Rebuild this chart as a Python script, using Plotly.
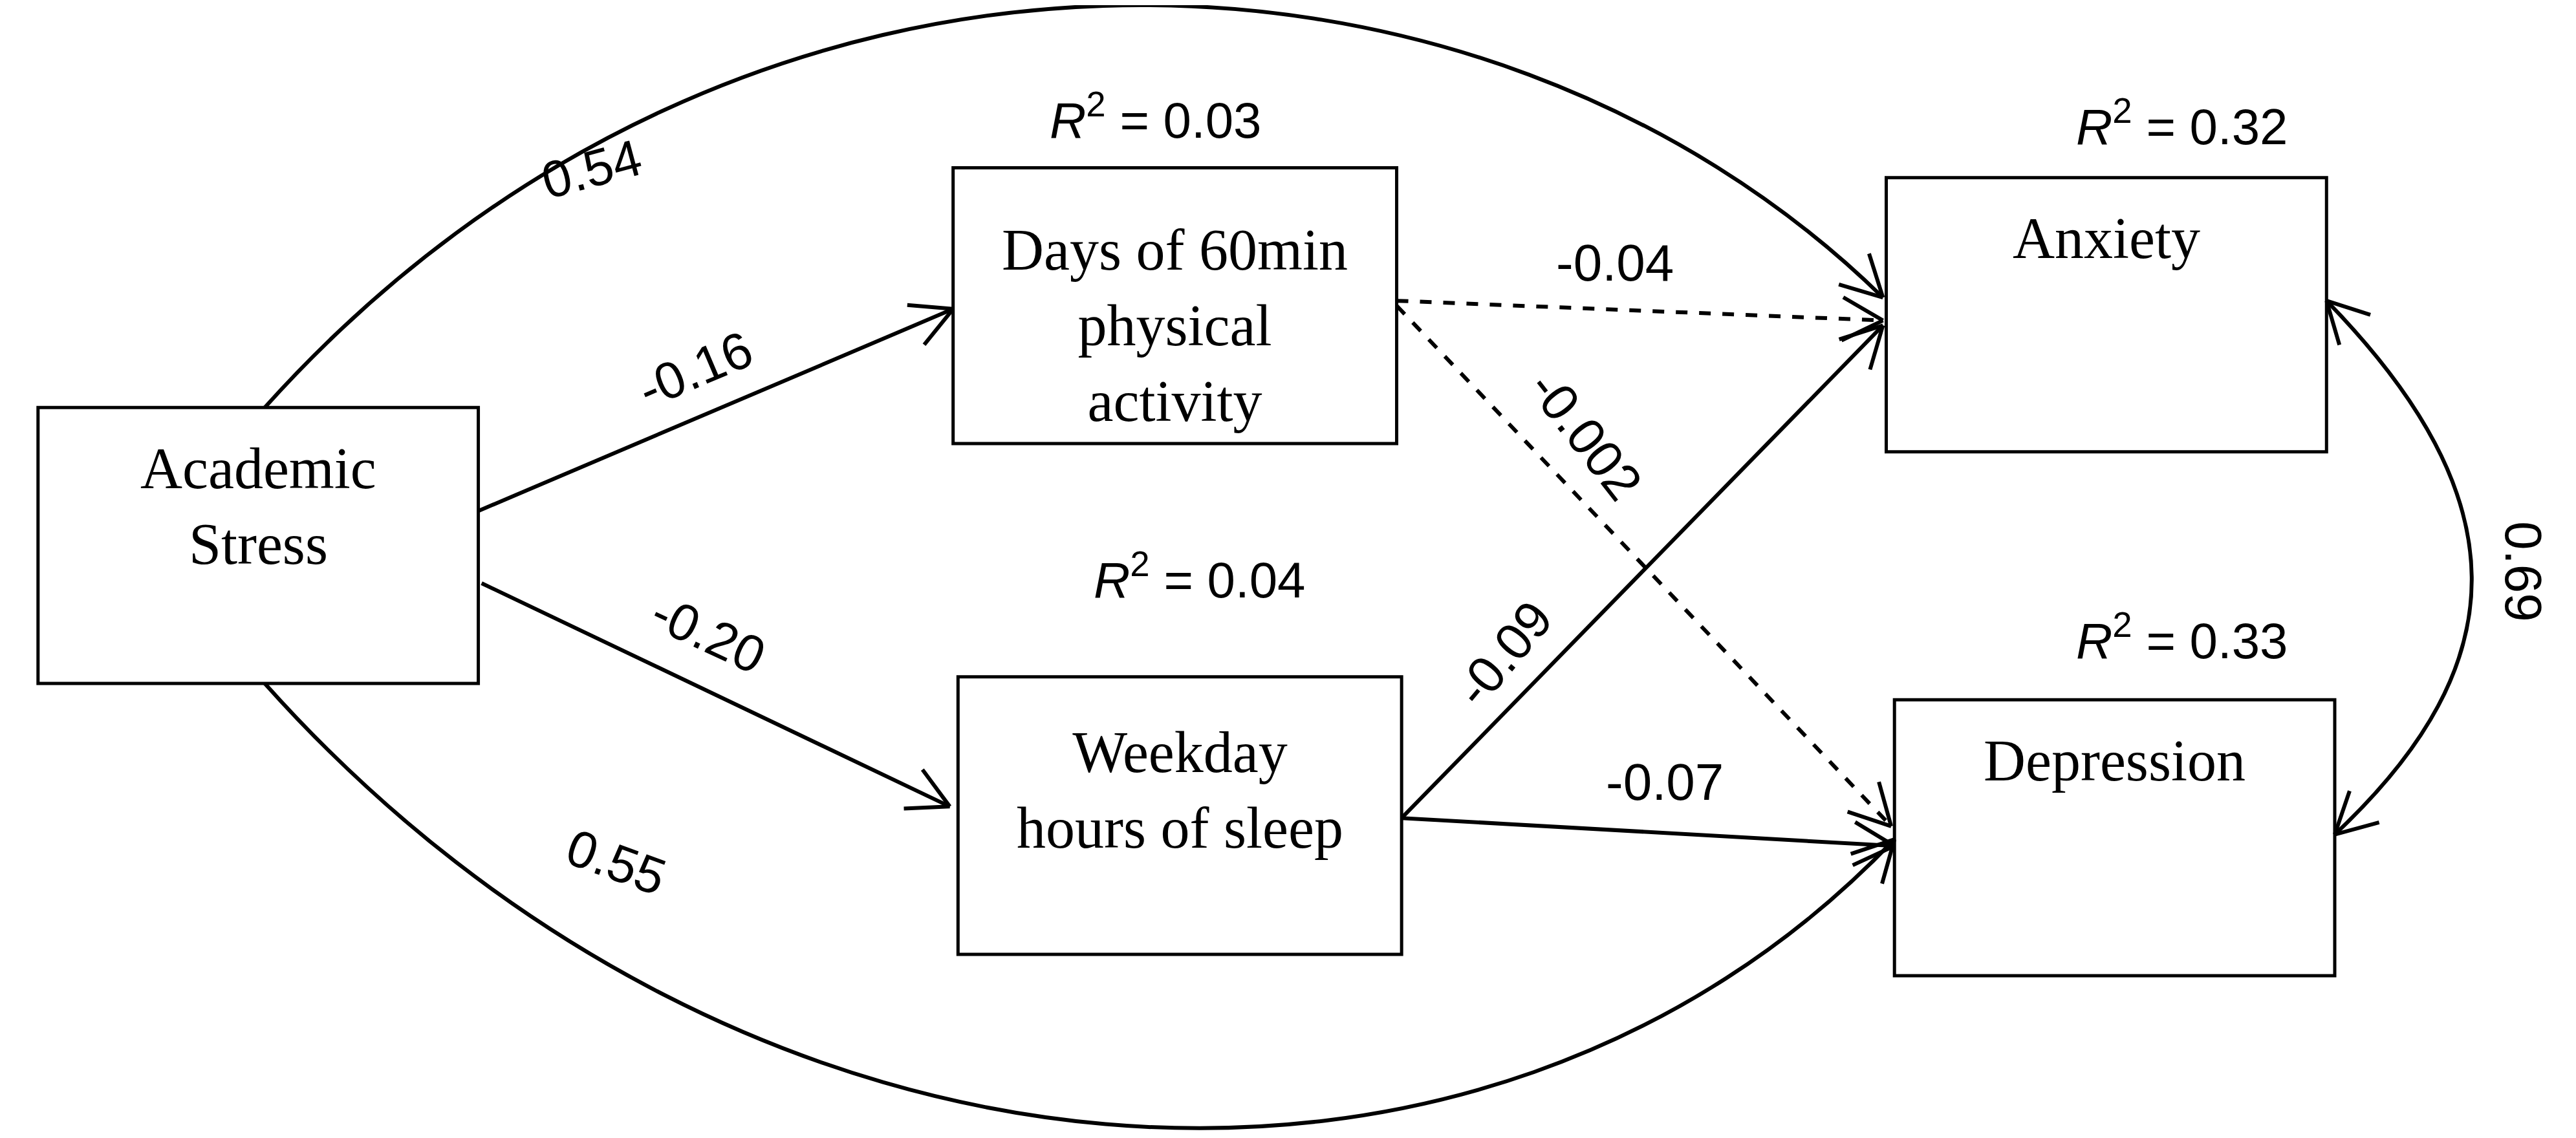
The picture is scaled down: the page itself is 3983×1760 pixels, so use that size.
import plotly.graph_objects as go
import math

W, H = 1568, 693  # working units (scaled to 3983x1760)
box_labels = ["Academic<br>Stress", "Days of 60min<br>physical<br>activity", "Weekday<br>hours of sleep", "Anxiety", "Depression"]
box_x0 = [20, 577, 580, 1145, 1150]
box_x1 = [288, 847, 850, 1413, 1418]
box_y0 = [245, 99, 409, 105, 423]
box_y1 = [413, 267, 578, 272, 591]
box_text_y = [305, 195, 478, 142, 460]

r2_labels = ["0.03", "0.32", "0.04", "0.33"]
r2_x = [700, 1325, 727, 1325]
r2_y = [68, 72, 348, 385]

coef_labels = ["-0.16", "-0.20", "-0.04", "-0.002", "-0.09", "-0.07", "0.54", "0.55", "0.69"]
coef_x = [420, 428, 980, 962, 912, 1010, 357, 372, 1533]
coef_y = [222, 383, 157, 262, 395, 473, 100, 522, 345]
coef_ang = [-23, 25, 0, 52, -50, 0, -15, 20, 90]

straight = [(288, 308, 577, 185, False), (290, 352, 575, 488, False),
            (847, 180, 1143, 192, True), (847, 183, 1148, 500, True),
            (850, 495, 1143, 195, False), (850, 495, 1150, 512, False)]
curves = [((158, 245), (450, -80), (900, -60), (1143, 178), False),
          ((158, 413), (450, 740), (900, 770), (1150, 508), False),
          ((1413, 180), (1530, 300), (1530, 400), (1418, 505), True)]

LW = 6
fig = go.Figure()
shapes, anns = [], []

def head(tip, frm):
    dx, dy = tip[0] - frm[0], tip[1] - frm[1]
    a = math.atan2(dy, dx)
    L = 28
    for s in (1, -1):
        b = a + math.pi + s * math.radians(28)
        shapes.append(dict(type="line", x0=tip[0], y0=tip[1], x1=tip[0] + L * math.cos(b),
                           y1=tip[1] + L * math.sin(b), line=dict(color="black", width=LW)))

for i in range(5):
    shapes.append(dict(type="rect", x0=box_x0[i], x1=box_x1[i], y0=box_y0[i], y1=box_y1[i],
                       line=dict(color="black", width=5), fillcolor="white"))
    anns.append(dict(x=(box_x0[i] + box_x1[i]) / 2, y=box_text_y[i], text=box_labels[i], showarrow=False,
                     yanchor="middle", font=dict(family="Liberation Serif", size=90, color="black")))

for x0, y0, x1, y1, d in straight:
    shapes.append(dict(type="line", x0=x0, y0=y0, x1=x1, y1=y1,
                       line=dict(color="black", width=LW, dash="dash" if d else "solid")))
    head((x1, y1), (x0, y0))

for p0, c1, c2, p3, dbl in curves:
    shapes.append(dict(type="path", path=f"M {p0[0]},{p0[1]} C {c1[0]},{c1[1]} {c2[0]},{c2[1]} {p3[0]},{p3[1]}",
                       line=dict(color="black", width=LW)))
    head(p3, c2)
    if dbl:
        head(p0, c1)

for t, x, y in zip(r2_labels, r2_x, r2_y):
    anns.append(dict(x=x, y=y, text=f"<i>R</i><sup>2</sup> = {t}", showarrow=False,
                     font=dict(family="Liberation Sans", size=78, color="black")))
for t, x, y, a in zip(coef_labels, coef_x, coef_y, coef_ang):
    anns.append(dict(x=x, y=y, text=t, showarrow=False, textangle=a,
                     font=dict(family="Liberation Sans", size=80, color="black")))

fig.update_layout(width=3983, height=1760, margin=dict(l=0, r=0, t=0, b=0),
                  plot_bgcolor="white", paper_bgcolor="white", shapes=shapes, annotations=anns,
                  xaxis=dict(range=[0, W], visible=False, fixedrange=True),
                  yaxis=dict(range=[H, 0], visible=False, fixedrange=True), showlegend=False)
fig.write_html("out.html", config={"displayModeBar": False})
